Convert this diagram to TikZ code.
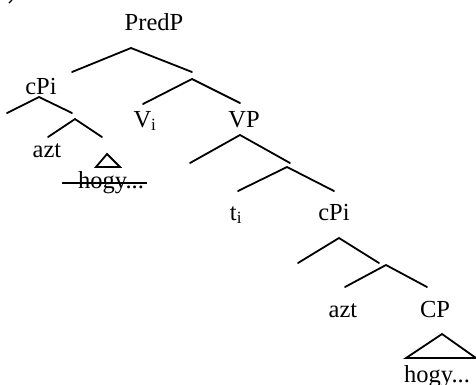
\documentclass[tikz,border=0pt]{standalone}
\usepackage{fontspec}
\setmainfont{Liberation Serif}
\begin{document}
\begin{tikzpicture}[x=1pt,y=-1pt,
  lbl/.style={inner sep=0pt,anchor=base,font=\fontsize{24.5}{28}\selectfont},
  br/.style={line width=1.8pt,line cap=round},
  tri/.style={line width=1.8pt,line join=miter}]
\useasboundingbox (0,0) rectangle (476,384);
% stray mark at top-left
\draw[line width=1.4pt] (12,0) -- (9,3);
% labels
\node[lbl] (predp) at (154,30) {PredP};
\node[lbl] (cpiL) at (41,94) {cPi};
\node[lbl] (vi) at (145,127) {V\textsubscript{i}};
\node[lbl] (vp) at (244,127) {VP};
\node[lbl] (aztL) at (47,157) {azt};
\node[lbl] (hogyL) at (111,188) {hogy...};
\node[lbl] (ti) at (236,220) {t\textsubscript{i}};
\node[lbl] (cpiR) at (334,220) {cPi};
\node[lbl] (aztR) at (343,317) {azt};
\node[lbl] (cp) at (435,317) {CP};
\node[lbl] (hogyR) at (437,382) {hogy...};
% branch coordinates
\coordinate (a1) at (131,48); \coordinate (l1) at (72,72); \coordinate (r1) at (192,72);
\coordinate (a2) at (39,97); \coordinate (l2) at (7,113); \coordinate (r2) at (72,113);
\coordinate (a3) at (75,119); \coordinate (l3) at (48,137); \coordinate (r3) at (102,137);
\coordinate (a4) at (192,79); \coordinate (l4) at (143,104); \coordinate (r4) at (240,103);
\coordinate (a5) at (240,135); \coordinate (l5) at (190,163); \coordinate (r5) at (290,163);
\coordinate (a6) at (287,167); \coordinate (l6) at (238,191); \coordinate (r6) at (334,191);
\coordinate (a7) at (339,238); \coordinate (l7) at (298,263); \coordinate (r7) at (379,263);
\coordinate (a8) at (386,265); \coordinate (l8) at (345,287); \coordinate (r8) at (427,287);
\foreach \n in {1,...,8} { \draw[br] (l\n) -- (a\n) -- (r\n); }
% triangles
\coordinate (ta) at (107,154); \coordinate (tb) at (96,167); \coordinate (tc) at (120,167);
\draw[tri] (ta) -- (tb) -- (tc) -- cycle;
\coordinate (ua) at (442,334); \coordinate (ub) at (406,358); \coordinate (uc) at (476,358);
\draw[tri] (ua) -- (ub) -- (uc) -- cycle;
% strike-through
\coordinate (s1) at (62,183); \coordinate (s2) at (147,183);
\draw[line width=1.2pt] (s1) -- (s2);
\end{tikzpicture}
\end{document}
